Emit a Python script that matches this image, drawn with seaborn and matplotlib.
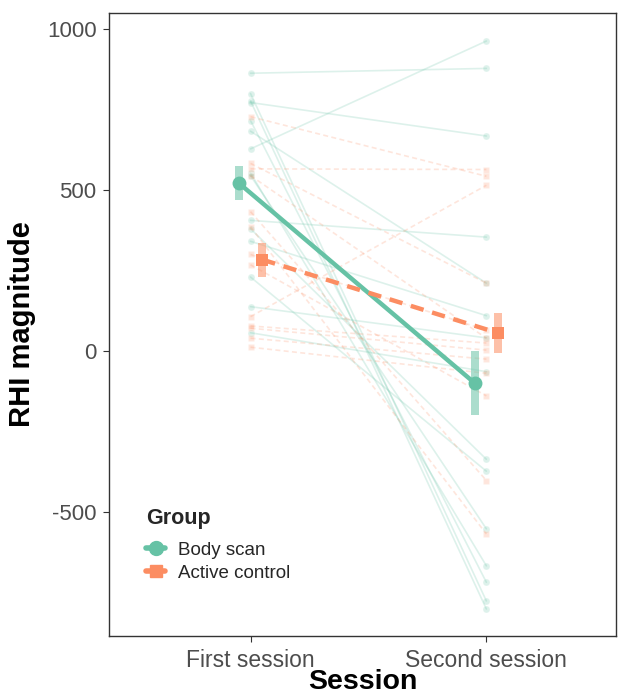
import numpy as np
import pandas as pd
import seaborn as sns
import matplotlib
matplotlib.use("Agg")
import matplotlib.pyplot as plt
from matplotlib.lines import Line2D

# ---- data ----
sessions = ["First session", "Second session"]
groups = ["Body scan", "Active control"]

body_first = [863, 628, 800, 777, 772, 716, 683, 553, 545, 406, 380, 341, 230, 138, 57]
body_second = [878, 963, -776, -801, 668, -718, 211, -667, -552, 354, -336, 110, -373, 41, -64]

control_first = [728, 583, 566, 545, 433, 386, 300, 268, 107, 78, 71, 40, 12]
control_second = [543, 211, 564, 40, -402, -568, 65, -139, 515, 25, 3, -25, -69]

body_mean = [522, -99]
body_se = [52, 100]
control_mean = [284, 56]
control_se = [53, 62]

GREEN = "#66C2A5"
ORANGE = "#FC8D62"
palette = {"Body scan": GREEN, "Active control": ORANGE}

rows = []
for i, (a, b) in enumerate(zip(body_first, body_second)):
    rows.append(("B%d" % i, "Body scan", 1, a))
    rows.append(("B%d" % i, "Body scan", 2, b))
for i, (a, b) in enumerate(zip(control_first, control_second)):
    rows.append(("C%d" % i, "Active control", 1, a))
    rows.append(("C%d" % i, "Active control", 2, b))
df = pd.DataFrame(rows, columns=["subject", "group", "session", "rhi"])

dodge = {"Body scan": -0.05, "Active control": 0.05}
mrows = []
for g, m, s in [("Body scan", body_mean, body_se), ("Active control", control_mean, control_se)]:
    for k in range(2):
        mrows.append((g, k + 1 + dodge[g], m[k], s[k]))
dm = pd.DataFrame(mrows, columns=["group", "x", "mean", "se"])

sns.set_theme(style="white")
plt.rcParams["font.family"] = ["Liberation Sans", "DejaVu Sans"]

fig = plt.figure(figsize=(6.28, 6.97), dpi=100)
ax = fig.add_axes([0.1736, 0.0875, 0.8074, 0.8938])

# individual participant trajectories
sns.lineplot(data=df, x="session", y="rhi", hue="group", style="group",
             units="subject", estimator=None, palette=palette,
             dashes={"Body scan": "", "Active control": (3, 2)},
             markers={"Body scan": "o", "Active control": "s"},
             markersize=5, linewidth=1.2, alpha=0.22, legend=False, ax=ax,
             markeredgewidth=1)

# error rectangles (mean +/- SE)
for g in groups:
    sub = dm[dm.group == g]
    ax.bar(sub["x"], 2 * sub["se"], bottom=sub["mean"] - sub["se"], width=0.034,
           color=palette[g], alpha=0.55, linewidth=0, zorder=3)

# group means
sns.lineplot(data=dm, x="x", y="mean", hue="group", style="group",
             palette=palette,
             dashes={"Body scan": "", "Active control": (3, 2)},
             markers={"Body scan": "o", "Active control": "s"},
             markersize=10, linewidth=3.2, markeredgewidth=0,
             legend=False, ax=ax, zorder=4)
for ln in ax.lines[-2:]:
    if ln.get_marker() == "s":
        ln.set_markersize(9)

ax.set_xlim(0.40, 2.55)
ax.set_ylim(-885, 1050)
ax.set_xticks([1, 2])
ax.set_xticklabels(sessions)
ax.set_yticks([-500, 0, 500, 1000])
ax.set_yticklabels(["-500", "0", "500", "1000"])
ax.tick_params(axis="both", which="both", length=4, width=0.8, color="#333333",
               labelcolor="#4D4D4D", direction="out", bottom=True, left=True)
ax.tick_params(axis="x", labelsize=16.5, pad=5)
ax.tick_params(axis="y", labelsize=16, pad=5)
for s in ax.spines.values():
    s.set_color("#333333")
    s.set_linewidth(1.0)
ax.set_xlabel("Session", fontsize=20.5, fontweight="bold", color="black", labelpad=-2)
ax.set_ylabel("RHI magnitude", fontsize=21, fontweight="bold", color="black", labelpad=8)

handles = [Line2D([], [], marker="o", color=GREEN, markersize=10, linewidth=4),
           Line2D([], [], marker="s", color=ORANGE, markersize=8, linewidth=4)]
leg = ax.legend(handles, groups, title="Group", loc="lower left",
                bbox_to_anchor=(0.04, 0.06), frameon=False, fontsize=13.5,
                title_fontproperties={"weight": "bold", "size": 15.5},
                handlelength=1.0, handletextpad=0.7, labelspacing=0.3)
leg._legend_box.align = "left"
leg._legend_box.sep = 9

fig.savefig("out.png", dpi=100)
